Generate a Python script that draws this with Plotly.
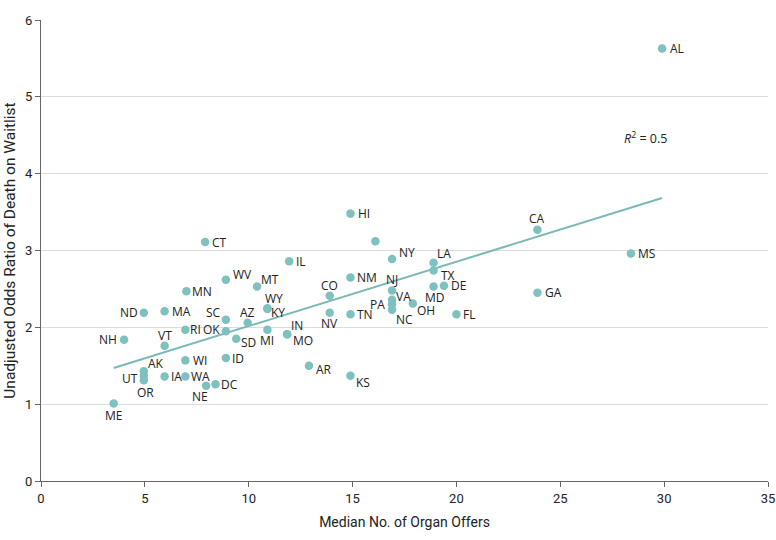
import numpy as np
import plotly.graph_objects as go

states = ["AL", "CA", "MS", "GA", "FL", "HI", "", "NY", "LA", "TX", "DE", "MD", "OH",
          "NJ", "VA", "PA", "NC", "NM", "CO", "NV", "TN", "IL", "CT", "WV", "MT", "MN",
          "WY", "KY", "SC", "AZ", "ND", "MA", "RI", "OK", "NH", "VT", "SD", "MI", "IN",
          "MO", "AK", "WI", "ID", "UT", "IA", "WA", "DC", "OR", "NE", "ME", "AR", "KS"]
offers = [29.9, 23.9, 28.4, 23.9, 20.0, 14.9, 16.1, 16.9, 18.9, 18.9, 19.4, 18.9, 17.9,
          16.9, 16.9, 16.9, 16.9, 14.9, 13.9, 13.9, 14.9, 11.95, 7.9, 8.9, 10.4, 7.0,
          10.9, 10.9, 8.9, 9.95, 4.95, 5.95, 6.95, 8.9, 4.0, 5.95, 9.4, 10.9, 11.85,
          11.85, 4.95, 6.95, 8.9, 4.95, 5.95, 6.95, 8.4, 4.95, 7.95, 3.5, 12.9, 14.9]
odds = [5.63, 3.27, 2.96, 2.45, 2.17, 3.48, 3.12, 2.89, 2.84, 2.74, 2.54, 2.53, 2.31,
        2.48, 2.36, 2.30, 2.23, 2.65, 2.41, 2.19, 2.17, 2.86, 3.11, 2.62, 2.53, 2.47,
        2.25, 2.24, 2.10, 2.06, 2.19, 2.21, 1.97, 1.95, 1.84, 1.76, 1.85, 1.97, 1.91,
        1.91, 1.43, 1.57, 1.60, 1.37, 1.36, 1.36, 1.26, 1.31, 1.24, 1.01, 1.50, 1.37]
x_ticks = [0, 5, 10, 15, 20, 25, 30, 35]
y_ticks = [0, 1, 2, 3, 4, 5, 6]
r_squared_text = "<i>R</i><sup>2</sup> = 0.5"
x_title = "Median No. of Organ Offers"
y_title = "Unadjusted Odds Ratio of Death on Waitlist"

# label placement (style only): anchor, x shift px, y shift px
placement = {
    "AL": ("left", 7, 0), "CA": ("center", 0, 11), "MS": ("left", 6, 0),
    "GA": ("left", 7, 0), "FL": ("left", 6, 0), "HI": ("left", 7, 0),
    "NY": ("left", 6, 6), "LA": ("left", 2, 9), "TX": ("left", 6, -5),
    "DE": ("left", 6, 0), "MD": ("center", 1, -11), "OH": ("left", 3, -7),
    "NJ": ("center", 0, 11), "VA": ("left", 3, 3), "PA": ("right", -6, 0),
    "NC": ("left", 3, -10), "NM": ("left", 6, 0), "CO": ("center", 0, 10),
    "NV": ("center", 0, -11), "TN": ("left", 6, 0), "IL": ("left", 6, 0),
    "CT": ("left", 6, 0), "WV": ("left", 6, 5), "MT": ("left", 3, 7),
    "MN": ("left", 5, 0), "WY": ("center", 7, 10), "KY": ("left", 3, -4),
    "SC": ("right", -4, 7), "AZ": ("center", 0, 10), "ND": ("right", -5, 0),
    "MA": ("left", 6, 0), "RI": ("left", 4, 0), "OK": ("right", -5, 2),
    "NH": ("right", -6, 0), "VT": ("center", 0, 10), "SD": ("left", 4, -4),
    "MI": ("center", 0, -11), "IN": ("left", 3, 9), "MO": ("left", 5, -6),
    "AK": ("left", 3, 8), "WI": ("left", 7, 0), "ID": ("left", 5, 0),
    "UT": ("right", -5, -3), "IA": ("left", 5, 0), "WA": ("left", 5, 0),
    "DC": ("left", 5, 0), "OR": ("center", 2, -12), "NE": ("center", -6, -11),
    "ME": ("center", 0, -12), "AR": ("left", 6, -4), "KS": ("left", 5, -7),
}

teal = "#7fc1bf"
label_font = dict(family="Open Sans, Noto Sans, sans-serif", size=12, color="#222222")
axis_font = dict(family="Roboto, sans-serif", size=13, color="#222222")
x_title_font = dict(family="Roboto, sans-serif", size=14, color="#222222")
y_title_font = dict(family="Roboto, sans-serif", size=15.5, color="#222222")

x = np.array(offers)
y = np.array(odds)
slope, intercept = np.polyfit(x, y, 1)
fit_x = np.array([x.min(), x.max()])
fit_y = intercept + slope * fit_x

fig = go.Figure()
fig.add_trace(go.Scatter(x=fit_x, y=fit_y, mode="lines",
                         line=dict(color="#7ab9b6", width=2), hoverinfo="skip",
                         showlegend=False))
fig.add_trace(go.Scatter(x=offers, y=odds, mode="markers", text=states,
                         marker=dict(color=teal, size=8.5), showlegend=False))

for s, xv, yv in zip(states, offers, odds):
    if not s:
        continue
    anchor, dx, dy = placement[s]
    fig.add_annotation(x=xv, y=yv, text=s, showarrow=False, xanchor=anchor,
                       yanchor="middle", xshift=dx, yshift=dy, font=label_font,
                       borderpad=0)

fig.add_annotation(x=29.1, y=4.47, text=r_squared_text, showarrow=False,
                   font=dict(family="Open Sans, Noto Sans, sans-serif", size=12.5,
                             color="#222222"))

fig.update_layout(
    width=776, height=540,
    margin=dict(l=41, r=8, t=20, b=59),
    plot_bgcolor="white", paper_bgcolor="white",
    font=axis_font,
    xaxis=dict(range=[0, 35], tickvals=x_ticks, showgrid=False, automargin=False,
               zeroline=False, showline=True, linecolor="#666666", linewidth=1,
               ticks="outside", ticklen=5, tickcolor="#666666",
               ticklabeloverflow="allow",
               title=dict(text=x_title, font=x_title_font, standoff=12),
               tickfont=axis_font),
    yaxis=dict(range=[0, 6], tickvals=y_ticks, showgrid=True, automargin=False,
               gridcolor="#dcdcdc", gridwidth=1, zeroline=False, showline=True,
               linecolor="#666666", linewidth=1, ticks="outside", ticklen=5,
               tickcolor="#666666", ticklabeloverflow="allow",
               title=dict(text=y_title, font=y_title_font, standoff=5),
               tickfont=axis_font),
)

# remove the default 8px page margin so the 776x540 figure fills the window exactly
fig.write_html("out.html",
               config={"displayModeBar": False},
               post_script="document.body.style.margin='0';"
                           "document.body.style.overflow='hidden';")
